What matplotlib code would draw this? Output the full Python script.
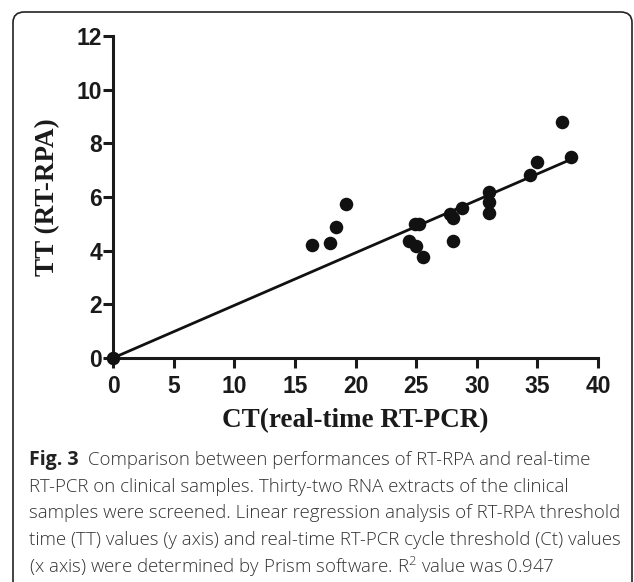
import matplotlib
matplotlib.use("Agg")
import matplotlib.pyplot as plt
from matplotlib.patches import FancyBboxPatch
import numpy as np

# Data
ct_values = [0.0, 16.4, 17.9, 18.4, 19.2, 24.4, 24.9, 25.2, 25.0, 25.6,
             27.8, 28.0, 28.0, 28.8, 31.05, 31.0, 31.0, 34.4, 35.0, 37.0, 37.8]
tt_values = [0.0, 4.22, 4.27, 4.89, 5.74, 4.37, 4.99, 4.99, 4.18, 3.78,
             5.36, 5.2, 4.37, 5.58, 6.17, 5.8, 5.39, 6.82, 7.3, 8.79, 7.48]
fit_slope = 0.196
fit_x = [0.0, 37.8]
x_ticks = [0, 5, 10, 15, 20, 25, 30, 35, 40]
y_ticks = [0, 2, 4, 6, 8, 10, 12]
x_label = "CT(real-time RT-PCR)"
y_label = "TT (RT-RPA)"
caption_bold = "Fig. 3"
caption_lines = [
    "Comparison between performances of RT-RPA and real-time",
    "RT-PCR on clinical samples. Thirty-two RNA extracts of the clinical",
    "samples were screened. Linear regression analysis of RT-RPA threshold",
    "time (TT) values (y axis) and real-time RT-PCR cycle threshold (Ct) values",
    r"(x axis) were determined by Prism software. R$^{\mathregular{2}}$ value was 0.947",
]

W, H = 634, 582
fig = plt.figure(figsize=(W / 100, H / 100), dpi=100)

# rounded frame (open at bottom)
frame = FancyBboxPatch((13 / W, -0.05), (632 - 13) / W, (582 - 12) / H + 0.05,
                       boxstyle="round,pad=0,rounding_size=0.018",
                       transform=fig.transFigure, fill=False,
                       edgecolor="#222222", linewidth=1.2)
fig.patches.append(frame)

ax_left = 113 / W
ax_right = 598 / W
ax_bottom = (H - 358) / H
ax_top = (H - 36) / H
ax = fig.add_axes([ax_left, ax_bottom, ax_right - ax_left, ax_top - ax_bottom])

ax.scatter(ct_values, tt_values, s=95, color="#111111", zorder=3, clip_on=False,
           linewidths=0)
fx = np.array(fit_x)
ax.plot(fx, fit_slope * fx, color="#111111", linewidth=2.0, zorder=2,
        clip_on=False)

ax.set_xlim(0, 40)
ax.set_ylim(0, 12)
ax.set_xticks(x_ticks)
ax.set_yticks(y_ticks)
for s in ["top", "right"]:
    ax.spines[s].set_visible(False)
for s in ["left", "bottom"]:
    ax.spines[s].set_linewidth(2.2)
    ax.spines[s].set_color("#1a1a1a")
ax.tick_params(axis="both", direction="out", length=7, width=2.2,
               color="#1a1a1a", labelcolor="#1a1a1a")
ax.tick_params(axis="y", pad=1)
ax.tick_params(axis="x", pad=5)
for lab in ax.get_xticklabels() + ax.get_yticklabels():
    lab.set_fontfamily("Liberation Sans")
    lab.set_fontweight("bold")
    lab.set_fontsize(16.5)

fig.text((113 + 598) / 2 / W, 1 - 421 / H, x_label, ha="center", va="center",
         fontfamily="Liberation Serif", fontweight="bold", fontsize=19.5,
         color="#1a1a1a")
fig.text(48 / W, 1 - 197 / H, y_label, ha="center", va="center", rotation=90,
         fontfamily="Liberation Serif", fontweight="bold", fontsize=19.5,
         color="#1a1a1a")

# caption
cap_x = 29 / W
line_ys = [460, 487, 513, 540, 567]
cap_fs = 13.4
fig.canvas.draw()
renderer = fig.canvas.get_renderer()
tb = fig.text(cap_x, 1 - line_ys[0] / H, caption_bold, ha="left", va="center",
              fontfamily="Open Sans", fontweight="bold", fontsize=cap_fs + 0.6,
              color="#222222")
bb = tb.get_window_extent(renderer=renderer)
for i, line in enumerate(caption_lines):
    x = cap_x
    if i == 0:
        x = (bb.x1 + 9) / W
    fig.text(x, 1 - line_ys[i] / H, line, ha="left", va="center",
             fontfamily="Open Sans", fontweight="light", fontsize=cap_fs,
             color="#333333")

fig.savefig("out.png", dpi=100)
